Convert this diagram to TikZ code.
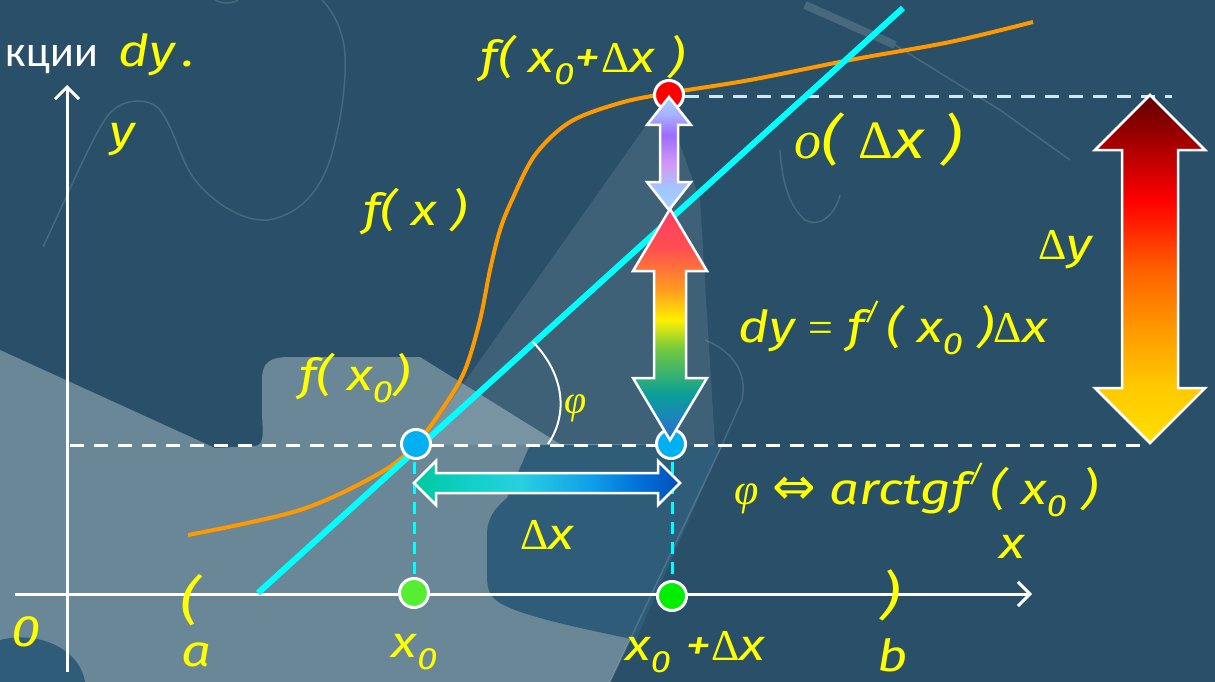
\documentclass[tikz,border=0pt]{standalone}
\usepackage{fontspec}
\setmainfont{Fira Sans}
\newfontfamily\cf{Fira Sans}[FakeStretch=1.2]
\newfontfamily\ru{Carlito}
\newfontfamily\serf{Liberation Serif}
\newfontfamily\dvs{DejaVu Sans}
\usetikzlibrary{arrows.meta}

\definecolor{bgdark}{RGB}{41,80,104}
\definecolor{bglight}{RGB}{105,135,151}
\definecolor{bgmid}{RGB}{47,92,120}
\definecolor{ylw}{RGB}{255,255,0}
\definecolor{orng}{RGB}{255,153,0}
\definecolor{cyn}{RGB}{0,255,255}
\definecolor{dashblue}{RGB}{205,232,248}
\definecolor{dotblue}{RGB}{0,176,240}
\definecolor{dotgreenA}{RGB}{85,238,51}
\definecolor{dotgreenB}{RGB}{0,238,0}
% rainbow (bottom -> top)
\definecolor{r1}{RGB}{46,107,216}
\definecolor{r2}{RGB}{10,158,154}
\definecolor{r3}{RGB}{112,200,64}
\definecolor{r4}{RGB}{255,240,0}
\definecolor{r5}{RGB}{255,154,32}
\definecolor{r6}{RGB}{255,80,80}
\definecolor{r7}{RGB}{255,60,100}
% purple (bottom -> top)
\definecolor{p1}{RGB}{168,208,255}
\definecolor{p2}{RGB}{160,200,255}
\definecolor{p3}{RGB}{210,154,245}
\definecolor{p4}{RGB}{157,107,255}
\definecolor{p5}{RGB}{168,176,255}
\definecolor{p6}{RGB}{168,212,255}
% delta y (bottom -> top)
\definecolor{d1}{RGB}{255,224,0}
\definecolor{d2}{RGB}{255,200,0}
\definecolor{d3}{RGB}{255,154,0}
\definecolor{d4}{RGB}{255,96,0}
\definecolor{d5}{RGB}{255,26,0}
\definecolor{d6}{RGB}{255,0,0}
\definecolor{d7}{RGB}{176,0,0}
\definecolor{d8}{RGB}{96,0,0}
% delta x (left -> right)
\definecolor{h1}{RGB}{0,200,160}
\definecolor{h2}{RGB}{16,208,200}
\definecolor{h3}{RGB}{40,208,224}
\definecolor{h4}{RGB}{16,160,232}
\definecolor{h5}{RGB}{0,112,216}
\definecolor{h6}{RGB}{0,80,184}

\pgfdeclareverticalshading{rainbowsh}{100bp}{color(0bp)=(r1); color(25bp)=(r1); color(34.8bp)=(r2); color(44.6bp)=(r3); color(51bp)=(r4); color(57.6bp)=(r5); color(66.3bp)=(r6); color(75bp)=(r7); color(100bp)=(r7)}
\pgfdeclareverticalshading{purplesh}{100bp}{color(0bp)=(p1); color(25bp)=(p1); color(33.8bp)=(p2); color(44.9bp)=(p3); color(58.2bp)=(p4); color(67bp)=(p5); color(75bp)=(p6); color(100bp)=(p6)}
\pgfdeclareverticalshading{deltaysh}{100bp}{color(0bp)=(d1); color(25bp)=(d1); color(33.3bp)=(d2); color(41.2bp)=(d3); color(49.9bp)=(d4); color(57bp)=(d5); color(59.9bp)=(d6); color(67.1bp)=(d7); color(75bp)=(d8); color(100bp)=(d8)}
\pgfdeclarehorizontalshading{deltaxsh}{100bp}{color(0bp)=(h1); color(25bp)=(h1); color(35.5bp)=(h2); color(44.9bp)=(h3); color(58bp)=(h4); color(67.5bp)=(h5); color(75bp)=(h6); color(100bp)=(h6)}

\newcommand\Dl{{\serf\upshape Δ}}
\newcommand\phig{{\serf\itshape φ}}
\newcommand\lsub[1]{\textsubscript{#1}}
\newcommand\myprime{\raisebox{0.5em}{\fontsize{24}{24}\selectfont /}}

% vertical double arrow: cx, ytop, ybot, head half width, shaft half width, head length, shading
\newcommand\vdarrow[7]{%
  \shadedraw[shading=#7, arrowline]
    (#1,#2) -- ({#1+#4},{#2+#6}) -- ({#1+#5},{#2+#6}) -- ({#1+#5},{#3-#6})
    -- ({#1+#4},{#3-#6}) -- (#1,#3) -- ({#1-#4},{#3-#6}) -- ({#1-#5},{#3-#6})
    -- ({#1-#5},{#2+#6}) -- ({#1-#4},{#2+#6}) -- cycle;}
% horizontal double arrow: cy, xleft, xright, head half height, shaft half height, head length, shading
\newcommand\hdarrow[7]{%
  \shadedraw[shading=#7, arrowline]
    (#2,#1) -- ({#2+#6},{#1-#4}) -- ({#2+#6},{#1-#5}) -- ({#3-#6},{#1-#5})
    -- ({#3-#6},{#1-#4}) -- (#3,#1) -- ({#3-#6},{#1+#4}) -- ({#3-#6},{#1+#5})
    -- ({#2+#6},{#1+#5}) -- ({#2+#6},{#1+#4}) -- cycle;}

\begin{document}
\begin{tikzpicture}[x=1pt,y=-1pt,
  arrowline/.style={draw=white, line width=2.5pt, line join=miter},
  lab/.style={text=ylw, font=\cf\itshape\fontsize{44}{48}\selectfont, inner sep=0pt},
  biglab/.style={text=ylw, font=\cf\itshape\fontsize{52}{56}\selectfont, inner sep=0pt},
  ptdot/.style={circle, draw=white, line width=3pt, minimum size=29pt, inner sep=0pt},
  outl/.style={draw=white, opacity=0.14, line width=1.5pt},
  axisline/.style={draw=white, line width=3pt, -{Straight Barb[length=12pt,width=24pt,line width=3pt]}},
  wdash/.style={draw=white, line width=3pt, dash pattern=on 14pt off 10pt},
  cdash/.style={draw=cyn, line width=3pt, dash pattern=on 12pt off 8pt}]

\useasboundingbox (0,0) rectangle (1215,682);

% ---------- background ----------
\fill[bgdark] (0,0) rectangle (1215,682);
\fill[bglight] (0,350) -- (215,448) -- (255,446) .. controls (266,445) and (262,430) .. (262,410)
  -- (262,380) .. controls (262,362) and (270,357) .. (290,357) -- (420,357) -- (560,444)
  -- (722,445) -- (610,682) -- (0,682) -- cycle;
\fill[bgmid] (530,445) -- (722,445) -- (636,640) .. controls (600,632) and (525,618) .. (500,603)
  .. controls (490,597) and (487,590) .. (487,575) -- (487,535) .. controls (487,518) and (495,508) .. (507,498) -- cycle;
\fill[bgmid] (0,640) .. controls (40,630) and (80,650) .. (85,682) -- (0,682) -- cycle;
\fill[white, opacity=0.10] (664,100) -- (420,445) -- (715,445) -- (700,200) -- cycle;
\draw[outl] (43,247) .. controls (70,190) and (95,130) .. (110,113) .. controls (125,97) and (150,98) .. (160,110)
  .. controls (175,130) and (180,160) .. (195,180) .. controls (215,205) and (245,222) .. (268,220)
  .. controls (300,215) and (320,190) .. (330,160) .. controls (345,110) and (348,60) .. (343,40)
  .. controls (338,20) and (330,8) .. (322,0);
\draw[outl] (215,0) .. controls (222,4) and (232,4) .. (238,0);
\draw[outl] (780,150) .. controls (782,180) and (788,205) .. (805,220) .. controls (820,228) and (835,215) .. (840,195);
\draw[white, opacity=0.14, line width=8pt] (805,5) -- (895,45);
\draw[outl] (895,45) -- (1000,110) -- (1070,160);
\draw[outl] (705,340) .. controls (730,350) and (748,370) .. (742,400) -- (722,445) -- (610,682);

% ---------- axes ----------
\draw[axisline] (15,594) -- (1032,594);
\draw[axisline] (67,672) -- (67,85);

% ---------- dashed guides ----------
\draw[wdash] (70,445) -- (1150,445);
\draw[draw=dashblue, line width=3pt, dash pattern=on 14pt off 10pt] (685,97) -- (1172,97);
\draw[cdash] (414,462) -- (414,580);
\draw[cdash] (672,462) -- (672,580);

% ---------- curve and tangent ----------
\draw[orng, line width=4pt] plot[smooth, tension=0.55] coordinates {(188,535) (300,510) (380,473) (416,444) (445,405) (465,370) (480,320) (490,270) (500,230) (512,200) (535,155) (570,122) (620,103) (669,93) (750,80) (850,60) (950,42) (1033,22)};
\coordinate (tA) at (258,593);
\coordinate (tB) at (903,8);
\draw[cyn, line width=6pt] (tA) -- (tB);

% angle arc
\draw[white, line width=2pt] (533,342) .. controls (565,375) and (568,415) .. (548,444);

% ---------- points ----------
\node[ptdot, fill=dotblue] (P0) at (416,444) {};
\node[ptdot, fill=dotblue] (P1) at (671,444) {};
\node[ptdot, fill=red] (P2) at (669,95) {};
\node[ptdot, fill=dotgreenA] (X0) at (414,593) {};
\node[ptdot, fill=dotgreenB] (X1) at (672,596) {};

% ---------- block arrows ----------
\vdarrow{670}{209}{440}{37}{16}{62}{rainbowsh}
\vdarrow{669}{97}{210}{22}{9}{28}{purplesh}
\vdarrow{1150}{95}{443}{55}{28}{55}{deltaysh}
\hdarrow{483}{414}{680}{22}{10}{22}{deltaxsh}

% ---------- labels ----------
\node[anchor=base east, text=white, font=\ru\fontsize{44}{48}\selectfont, inner sep=0pt] (ru) at (98,67) {кции};
\node[anchor=base west, text=ylw, font=\cf\itshape\fontsize{44}{48}\selectfont, inner sep=0pt] (dyt) at (118,67) {dy\,.};
\node[lab] (ylab) at (122,140) {y};
\node[lab] (fxdx) at (583,60) {f( x\lsub{0}+\Dl x )};
\node[biglab, font=\cf\itshape\fontsize{54}{58}\selectfont] (odx) at (878,140) {{\serf\itshape o}( {\serf\upshape Δ}x )};
\node[lab] (fx) at (415,212) {f( x )};
\node[lab] (dylab) at (1065,250) {\Dl y};
\node[lab] (dyeq) at (893,328) {dy {\serf\upshape =} f\myprime\,( x\lsub{0} )\Dl x};
\node[lab] (fx0) at (355,378) {f( x\lsub{0})};
\node[lab, font=\fontsize{40}{44}\selectfont] (phi) at (576,408) {\phig};
\node[lab] (phieq) at (916,490) {\phig\ {\dvs\upshape\fontsize{52}{52}\selectfont ⇔}\ arctgf\myprime\,( x\lsub{0} )};
\node[lab] (dxlab) at (547,535) {\Dl x};
\node[lab] (xlab) at (1012,547) {x};
\node[lab] (zero) at (26,632) {0};
\node[biglab] (lpar) at (190,600) {(};
\node[biglab] (rpar) at (890,595) {)};
\node[lab] (alab) at (197,655) {a};
\node[lab] (x0lab) at (415,652) {x\lsub{0}};
\node[lab] (x0dxlab) at (695,652) {x\lsub{0} +\Dl x};
\node[lab] (blab) at (893,655) {b};

\end{tikzpicture}
\end{document}
